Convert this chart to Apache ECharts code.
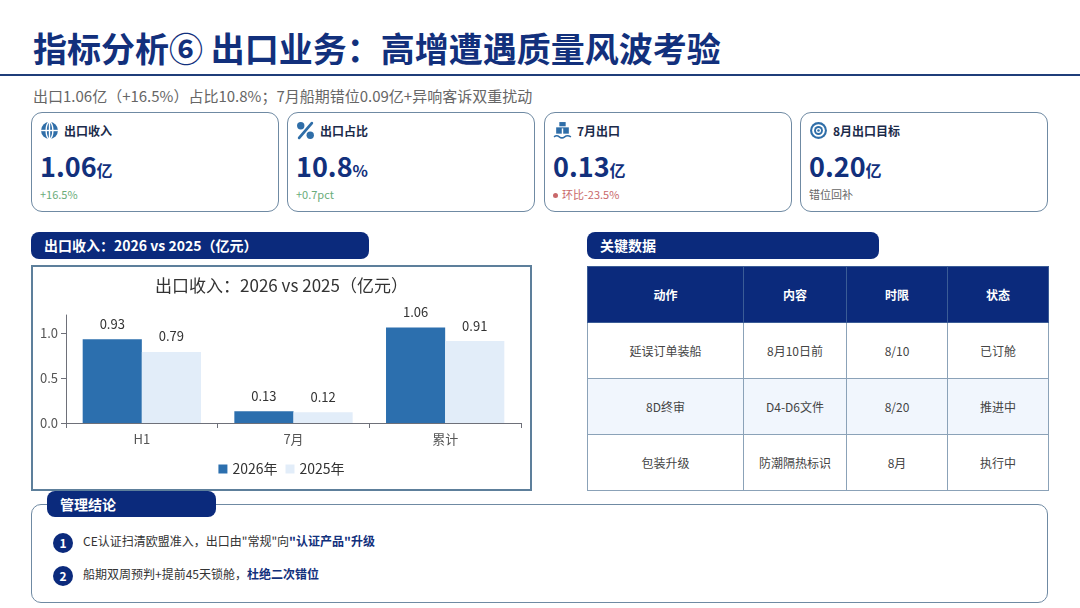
<!DOCTYPE html>
<html>
<head>
<meta charset="utf-8">
<script src="https://cdn.jsdelivr.net/npm/echarts@6/dist/echarts.min.js"></script>
<style>
  * { box-sizing: border-box; margin: 0; padding: 0; }
  body { width: 1080px; height: 608px; background: #fff; position: relative; overflow: hidden;
         font-family: "Noto Sans CJK SC", "Noto Sans", sans-serif; color: #333; }
  .abs { position: absolute; }
  #title { left: 33px; top: 26px; font-size: 34px; font-weight: 700; color: #12307c; line-height: 44px; white-space: nowrap; }
  #rule { left: 0; top: 74px; width: 1080px; height: 2px; background: #1f3d7a; }
  #sub { left: 33px; top: 86px; font-size: 15px; color: #666; line-height: 20px; white-space: nowrap; }
  .card { top: 112px; width: 248px; height: 100px; border: 1.5px solid #6f8aa3; border-radius: 11px; }
  .card .lab { position: absolute; left: 32px; top: 9px; font-size: 12px; font-weight: 700; color: #1b2b4a; line-height: 18px; }
  .card svg { position: absolute; left: 8px; top: 8px; }
  .card .val { position: absolute; left: 8px; top: 34px; font-size: 27px; font-weight: 700; color: #12307c; line-height: 38px; }
  .card .val span { font-size: 16px; }
  .card .note { position: absolute; left: 8px; top: 73px; font-size: 11px; line-height: 16px; }
  .card .note em { display: inline-block; width: 5px; height: 5px; border-radius: 50%; background: #c9686a; margin: 0 4px 1px 0; vertical-align: middle; }
  .pill { height: 27px; background: #0b2a7c; border-radius: 8px; color: #fff; font-size: 14px; font-weight: 700; line-height: 27px; padding-left: 13px; white-space: nowrap; }
  #chartBox { left: 31px; top: 265px; width: 501px; height: 226px; border: 2px solid #5d7f9b; }
  #chart { width: 497px; height: 222px; }
  #tbl { left: 587px; top: 266px; width: 461px; height: 225px; border-collapse: collapse; table-layout: fixed; }
  #tbl td, #tbl th { border: 1px solid #8ba2b8; text-align: center; font-size: 12px; }
  #tbl th { background: #0b2a7c; color: #fff; font-weight: 700; height: 56px; border-color: #3b5c96; }
  #tbl td { color: #444; height: 56px; }
  #tbl tr.alt td { background: #f1f6fd; }
  #concl { left: 31px; top: 504px; width: 1017px; height: 99px; border: 1.5px solid #6f8aa3; border-radius: 10px; }
  .item { position: absolute; left: 21px; font-size: 12px; color: #333; line-height: 20px; white-space: nowrap; }
  .item i { display: inline-block; width: 20px; height: 20px; border-radius: 50%; background: #0b2a7c; color: #fff; font-style: normal;
            font-weight: 700; text-align: center; line-height: 20px; font-size: 12px; margin-right: 10px; vertical-align: middle; }
  .item b { color: #12307c; }
</style>
</head>
<body>
<div id="title" class="abs">指标分析⑥ 出口业务：高增遭遇质量风波考验</div>
<div id="rule" class="abs"></div>
<div id="sub" class="abs">出口1.06亿（+16.5%）占比10.8%；7月船期错位0.09亿+异响客诉双重扰动</div>

<div class="card abs" style="left:31px">
  <svg width="19" height="19" viewBox="0 0 18 18"><circle cx="9" cy="9" r="8" fill="#2f6ea8"/><ellipse cx="9" cy="9" rx="3.2" ry="8" fill="none" stroke="#fff" stroke-width="1.3"/><line x1="1" y1="9" x2="17" y2="9" stroke="#fff" stroke-width="1.3"/><line x1="9" y1="1" x2="9" y2="17" stroke="#fff" stroke-width="1.3"/></svg>
  <div class="lab">出口收入</div>
  <div class="val">1.06<span>亿</span></div>
  <div class="note" style="color:#6aac7a">+16.5%</div>
</div>
<div class="card abs" style="left:287px">
  <svg width="19" height="19" viewBox="0 0 18 18"><circle cx="4.5" cy="4.5" r="3.5" fill="#2f6ea8"/><circle cx="13.5" cy="13.5" r="3.5" fill="#2f6ea8"/><line x1="15" y1="2" x2="3" y2="16" stroke="#2f6ea8" stroke-width="2.6" stroke-linecap="round"/></svg>
  <div class="lab">出口占比</div>
  <div class="val">10.8<span>%</span></div>
  <div class="note" style="color:#6aac7a">+0.7pct</div>
</div>
<div class="card abs" style="left:544px">
  <svg width="19" height="19" viewBox="0 0 18 18"><rect x="6" y="1" width="6" height="4" fill="#2f6ea8"/><path d="M3 12 L3 6 L15 6 L15 12 Z" fill="#2f6ea8"/><line x1="9" y1="7" x2="9" y2="13" stroke="#fff" stroke-width="1.4"/><path d="M1 15 Q3.5 13 6 15 T11 15 T17 15" fill="none" stroke="#2f6ea8" stroke-width="1.5"/></svg>
  <div class="lab">7月出口</div>
  <div class="val">0.13<span>亿</span></div>
  <div class="note" style="color:#c9686a"><em></em>环比-23.5%</div>
</div>
<div class="card abs" style="left:800px">
  <svg width="19" height="19" viewBox="0 0 18 18"><circle cx="9" cy="9" r="8" fill="#2f6ea8"/><circle cx="9" cy="9" r="6" fill="#fff"/><circle cx="9" cy="9" r="4.2" fill="#2f6ea8"/><circle cx="9" cy="9" r="2.4" fill="#fff"/><circle cx="9" cy="9" r="1.2" fill="#2f6ea8"/></svg>
  <div class="lab">8月出口目标</div>
  <div class="val">0.20<span>亿</span></div>
  <div class="note" style="color:#666">错位回补</div>
</div>

<div class="pill abs" style="left:31px; top:232px; width:338px">出口收入：2026 vs 2025（亿元）</div>
<div class="pill abs" style="left:587px; top:232px; width:292px">关键数据</div>

<div id="chartBox" class="abs"><div id="chart"></div></div>

<table id="tbl" class="abs"><thead><tr id="thead"></tr></thead><tbody id="tbody"></tbody></table>

<div id="concl" class="abs">
  <div class="item" style="top:26px"><i>1</i>CE认证扫清欧盟准入，出口由"常规"向<b>"认证产品"升级</b></div>
  <div class="item" style="top:59px"><i>2</i>船期双周预判+提前45天锁舱，<b>杜绝二次错位</b></div>
</div>
<div class="pill abs" style="left:47px; top:491px; width:169px; height:26px; line-height:26px">管理结论</div>

<script>
var categories = ['H1', '7月', '累计'];
var seriesNames = ['2026年', '2025年'];
var values2026 = [0.93, 0.13, 1.06];
var values2025 = [0.79, 0.12, 0.91];

var tableHeader = ['动作', '内容', '时限', '状态'];
var tableActions = ['延误订单装船', '8D终审', '包装升级'];
var tableContents = ['8月10日前', 'D4-D6文件', '防潮隔热标识'];
var tableDeadlines = ['8/10', '8/20', '8月'];
var tableStatus = ['已订舱', '推进中', '执行中'];

// 表格
var colWidths = [156, 103, 101, 101];
document.getElementById('thead').innerHTML = tableHeader.map(function (h, i) {
    return '<th style="width:' + colWidths[i] + 'px">' + h + '</th>';
}).join('');
var rows = '';
for (var r = 0; r < tableActions.length; r++) {
    rows += '<tr' + (r % 2 === 1 ? ' class="alt"' : '') + '><td>' + tableActions[r] + '</td><td>' + tableContents[r] +
        '</td><td>' + tableDeadlines[r] + '</td><td>' + tableStatus[r] + '</td></tr>';
}
document.getElementById('tbody').innerHTML = rows;

// 柱状图
var barChart = echarts.init(document.getElementById('chart'));
var labelStyle = { show: true, position: 'top', color: '#333', fontSize: 13, distance: 9 };
var baroption = {
    animation: false,
    textStyle: { fontFamily: 'Noto Sans CJK SC' },
    title: {
        text: '出口收入：2026 vs 2025（亿元）',
        left: 'center',
        top: 5,
        textStyle: { fontSize: 17, fontWeight: 'normal', color: '#333' }
    },
    legend: {
        data: seriesNames,
        bottom: 8,
        itemWidth: 9,
        itemHeight: 9,
        itemGap: 8,
        icon: 'rect',
        textStyle: { fontSize: 14, color: '#333' }
    },
    grid: { left: 33, right: 9, top: 48, bottom: 66 },
    xAxis: {
        type: 'category',
        data: categories,
        axisLine: { lineStyle: { color: '#6e7079' } },
        axisTick: { show: true, alignWithLabel: false },
        axisLabel: { fontSize: 13, color: '#555', margin: 10 }
    },
    yAxis: {
        type: 'value',
        min: 0,
        max: 1.2,
        interval: 0.5,
        axisLine: { show: true, lineStyle: { color: '#6e7079' } },
        axisTick: { show: true },
        splitLine: { show: false },
        axisLabel: {
            fontSize: 13, color: '#555', showMaxLabel: false,
            formatter: function (v) { return v.toFixed(1); }
        }
    },
    series: [
        {
            name: seriesNames[0],
            type: 'bar',
            data: values2026,
            barGap: '0%',
            barCategoryGap: '22%',
            itemStyle: { color: '#2c6fae' },
            label: labelStyle
        },
        {
            name: seriesNames[1],
            type: 'bar',
            data: values2025,
            itemStyle: { color: '#e2edf9' },
            label: labelStyle
        }
    ]
};
barChart.setOption(baroption);
</script>
</body>
</html>
